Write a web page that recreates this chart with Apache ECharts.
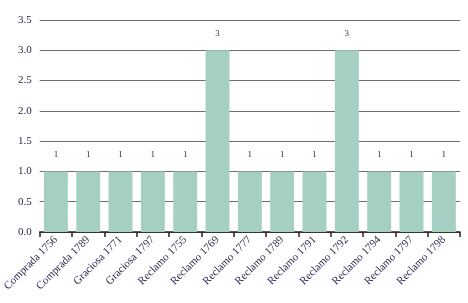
<!DOCTYPE html>
<html><head><meta charset="utf-8">
<script src="https://cdn.jsdelivr.net/npm/echarts@6/dist/echarts.min.js"></script>
<style>html,body{margin:0;padding:0;background:#fff}#c{width:468px;height:303px}</style>
</head><body><div id="c"></div>
<script>
const categories = ["Comprada 1756","Comprada 1789","Graciosa 1771","Graciosa 1797","Reclamo 1755","Reclamo 1769","Reclamo 1777","Reclamo 1789","Reclamo 1791","Reclamo 1792","Reclamo 1794","Reclamo 1797","Reclamo 1798"];
const values = [1,1,1,1,1,3,1,1,1,3,1,1,1];
const font = "'Liberation Serif', 'DejaVu Serif', serif";
const chart = echarts.init(document.getElementById('c'));
chart.setOption({
  animation: false,
  grid: {left: 39, right: 8, top: 20, bottom: 71, containLabel: false},
  xAxis: {
    type: 'category', data: categories,
    axisLine: {lineStyle: {color: '#222', width: 1.5}},
    axisTick: {show: true, length: 5, lineStyle: {color: '#222', width: 1.5}},
    axisLabel: {rotate: 45, fontFamily: font, fontSize: 11, color: '#2a2a50', margin: 6, interval: 0}
  },
  yAxis: {
    type: 'value', min: 0, max: 3.5, interval: 0.5,
    axisLine: {show: false}, axisTick: {show: false},
    splitLine: {lineStyle: {color: '#6e6e6e', width: 1}},
    axisLabel: {formatter: v => v.toFixed(1), fontFamily: font, fontSize: 11, color: '#2a2a50', margin: 8}
  },
  series: [{
    type: 'bar', data: values, barCategoryGap: '26%',
    itemStyle: {color: '#a6cfc3'},
    label: {show: true, position: 'top', distance: 12, fontFamily: font, fontSize: 9, color: '#3a2a60'}
  }]
});
</script></body></html>
